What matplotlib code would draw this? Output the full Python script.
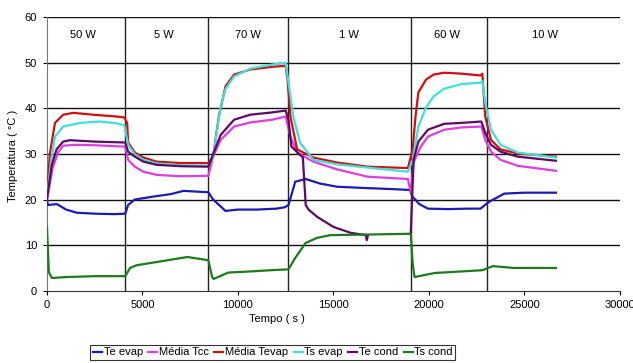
import numpy as np
import matplotlib
matplotlib.use("Agg")
import matplotlib.pyplot as plt

plt.rcParams['font.family'] = ['Liberation Sans', 'DejaVu Sans']

# phase boundaries (s) and power labels
boundaries = [4100, 8450, 12600, 19050, 23050]
phase_labels = ["50 W", "5 W", "70 W", "1 W", "60 W", "10 W"]
phase_label_t = [1900, 6100, 10500, 15800, 20950, 26100]

# Te evap
t_te_evap = [0, 50, 520, 1000, 1570, 2500, 3500, 4100, 4250, 4600, 5500, 6500, 7150, 8000, 8450,
             8700, 9350, 10000, 11000, 12000, 12450, 12650, 13000, 13550, 14300, 15200, 16800, 18000,
             19000, 19150, 19500, 19950, 21000, 22000, 22700, 23150, 23950, 25000, 26650]
v_te_evap = [20.0, 18.8, 19.0, 17.8, 17.1, 16.9, 16.8, 16.9, 18.8, 20.0, 20.6, 21.2, 21.9, 21.7, 21.6,
             20.0, 17.5, 17.8, 17.8, 18.0, 18.3, 18.8, 23.9, 24.5, 23.5, 22.8, 22.5, 22.3,
             22.1, 20.6, 19.0, 18.0, 17.9, 18.0, 18.0, 19.5, 21.3, 21.5, 21.5]

# Média Tcc
t_tcc = [0, 300, 600, 850, 1450, 2500, 3500, 4100, 4250, 4600, 5050, 5750, 7000, 8450,
         8700, 9100, 9800, 10650, 11800, 12500, 12750, 13100, 13950, 15200, 16800, 18900,
         19050, 19200, 19550, 19950, 20800, 21700, 22750, 22950, 23250, 23750, 24650, 26650]
v_tcc = [20.0, 27.0, 30.5, 31.8, 32.0, 31.9, 31.7, 31.6, 28.7, 27.2, 26.1, 25.4, 25.1, 25.2,
         29.4, 33.1, 36.0, 36.9, 37.5, 38.2, 33.8, 30.3, 28.3, 26.6, 25.0, 24.5,
         21.5, 28.1, 31.4, 33.8, 35.3, 35.8, 36.0, 33.1, 30.5, 28.7, 27.4, 26.3]

# Média Tevap
t_tevap = [0, 150, 420, 850, 1380, 2400, 3650, 4050, 4200, 4250, 4600, 5050, 5750, 7000, 8450,
           8700, 9000, 9350, 9800, 10650, 11800, 12500, 12600, 12750, 13100, 13950, 15200, 16800, 18900,
           19150, 19300, 19450, 19850, 20250, 20800, 21700, 22700, 22800, 22950, 23250, 23750, 24650, 26650]
v_tevap = [20.5, 30.0, 36.8, 38.6, 39.0, 38.6, 38.2, 38.0, 36.8, 32.5, 30.3, 29.2, 28.3, 28.0, 28.0,
           29.4, 38.2, 44.8, 47.4, 48.5, 49.1, 49.3, 46.3, 38.2, 31.0, 29.2, 28.1, 27.2, 26.9,
           31.0, 38.2, 43.5, 46.3, 47.4, 47.8, 47.6, 47.2, 47.6, 38.2, 33.1, 31.0, 30.1, 29.4]

# Ts evap
t_ts_evap = [0, 200, 420, 850, 1730, 2780, 3650, 4050, 4250, 4600, 5050, 5750, 7000, 8450,
             8700, 9100, 9350, 9800, 10650, 11800, 12500, 12650, 12900, 13250, 13950, 15200, 16800, 18900,
             19150, 19450, 19850, 20250, 20800, 21700, 22700, 22800, 22950, 23250, 23750, 24650, 26650]
v_ts_evap = [20.0, 28.0, 33.8, 36.0, 36.8, 37.1, 36.7, 36.3, 32.0, 29.9, 28.7, 27.9, 27.5, 27.4,
             29.4, 40.5, 44.2, 47.0, 48.7, 49.6, 50.0, 45.6, 38.2, 32.5, 28.7, 27.7, 27.0, 26.1,
             28.7, 36.0, 40.2, 42.6, 44.3, 45.3, 45.6, 46.0, 41.2, 35.3, 32.0, 30.3, 29.2]

# Te cond (gap between 16800 s and 19050 s)
t_te_cond = [0, 250, 500, 850, 1200, 2500, 4100, 4250, 4600, 5050, 5750, 7000, 8450,
             8650, 9100, 9800, 10650, 11800, 12500, 12650, 12800, 13400, 13550, 13700, 14150, 15000,
             15900, 16700, 16750, 16800, 17500,
             19050, 19200, 19450, 19950, 20800, 21700, 22750, 22950, 23250, 23750, 24650, 26650]
v_te_cond = [20.0, 27.5, 31.0, 32.7, 33.0, 32.7, 32.5, 30.5, 29.4, 28.3, 27.6, 27.3, 27.2,
             29.4, 34.2, 37.5, 38.6, 39.1, 39.5, 37.5, 31.6, 29.2, 18.8, 17.8, 16.2, 14.0,
             12.7, 12.2, 11.1, 12.0, np.nan,
             12.5, 28.7, 32.7, 35.3, 36.6, 36.8, 37.1, 34.6, 32.0, 30.5, 29.4, 28.5]

# Ts cond
t_ts_cond = [0, 100, 260, 1000, 2500, 4100, 4350, 4700, 5750, 7350, 8450,
             8650, 8730, 9500, 10500, 11700, 12650, 13000, 13550, 14150, 14850, 16500, 19050,
             19150, 19250, 20300, 22800, 23350, 24450, 26650]
v_ts_cond = [14.0, 4.0, 2.8, 3.0, 3.2, 3.2, 5.0, 5.6, 6.3, 7.4, 6.7,
             3.0, 2.6, 4.0, 4.2, 4.5, 4.7, 7.2, 10.5, 11.6, 12.2, 12.3, 12.5,
             6.0, 3.0, 3.9, 4.5, 5.4, 5.0, 5.0]

series = [
    ("Te evap", t_te_evap, v_te_evap, "#1c1cb4"),
    ("Média Tcc", t_tcc, v_tcc, "#e03ce0"),
    ("Média Tevap", t_tevap, v_tevap, "#d01010"),
    ("Ts evap", t_ts_evap, v_ts_evap, "#3ee0dc"),
    ("Te cond", t_te_cond, v_te_cond, "#5e0a62"),
    ("Ts cond", t_ts_cond, v_ts_cond, "#1e7a1e"),
]

fig = plt.figure(figsize=(6.33, 3.63), dpi=100)
ax = fig.add_axes([0.0742, 0.199, 0.905, 0.754])

for y in range(10, 61, 10):
    ax.axhline(y, color="#111111", lw=1.0, zorder=1)
for b in boundaries:
    ax.plot([b, b], [0, 60], color="#222222", lw=1.0, zorder=1)

for name, t, v, c in series:
    ax.plot(t, v, color=c, lw=1.6, label=name, zorder=3)

for lab, t in zip(phase_labels, phase_label_t):
    ax.text(t, 56.0, lab, ha="center", va="center", fontsize=8)

ax.set_xlim(0, 30000)
ax.set_ylim(0, 60)
ax.set_xticks(range(0, 30001, 5000))
ax.set_yticks(range(0, 61, 10))
ax.tick_params(labelsize=8, length=3, width=0.8, direction="out", pad=4)
for s in ["top", "right"]:
    ax.spines[s].set_visible(False)
ax.spines["left"].set_color("#777777")
ax.spines["bottom"].set_color("#333333")

fig.text(0.437, 0.121, "Tempo ( s )", ha="center", va="center", fontsize=8)
fig.text(0.02, 0.57, "Temperatura ( °C )", ha="center", va="center", rotation=90, fontsize=8)

leg = fig.legend(loc="center", bbox_to_anchor=(0.431, 0.029), ncol=6, fontsize=8,
                 frameon=True, fancybox=False, edgecolor="black", handlelength=0.8,
                 handletextpad=0.15, columnspacing=0.5, borderpad=0.25, borderaxespad=0)
leg.get_frame().set_linewidth(0.8)

fig.savefig("out.png", dpi=100)
